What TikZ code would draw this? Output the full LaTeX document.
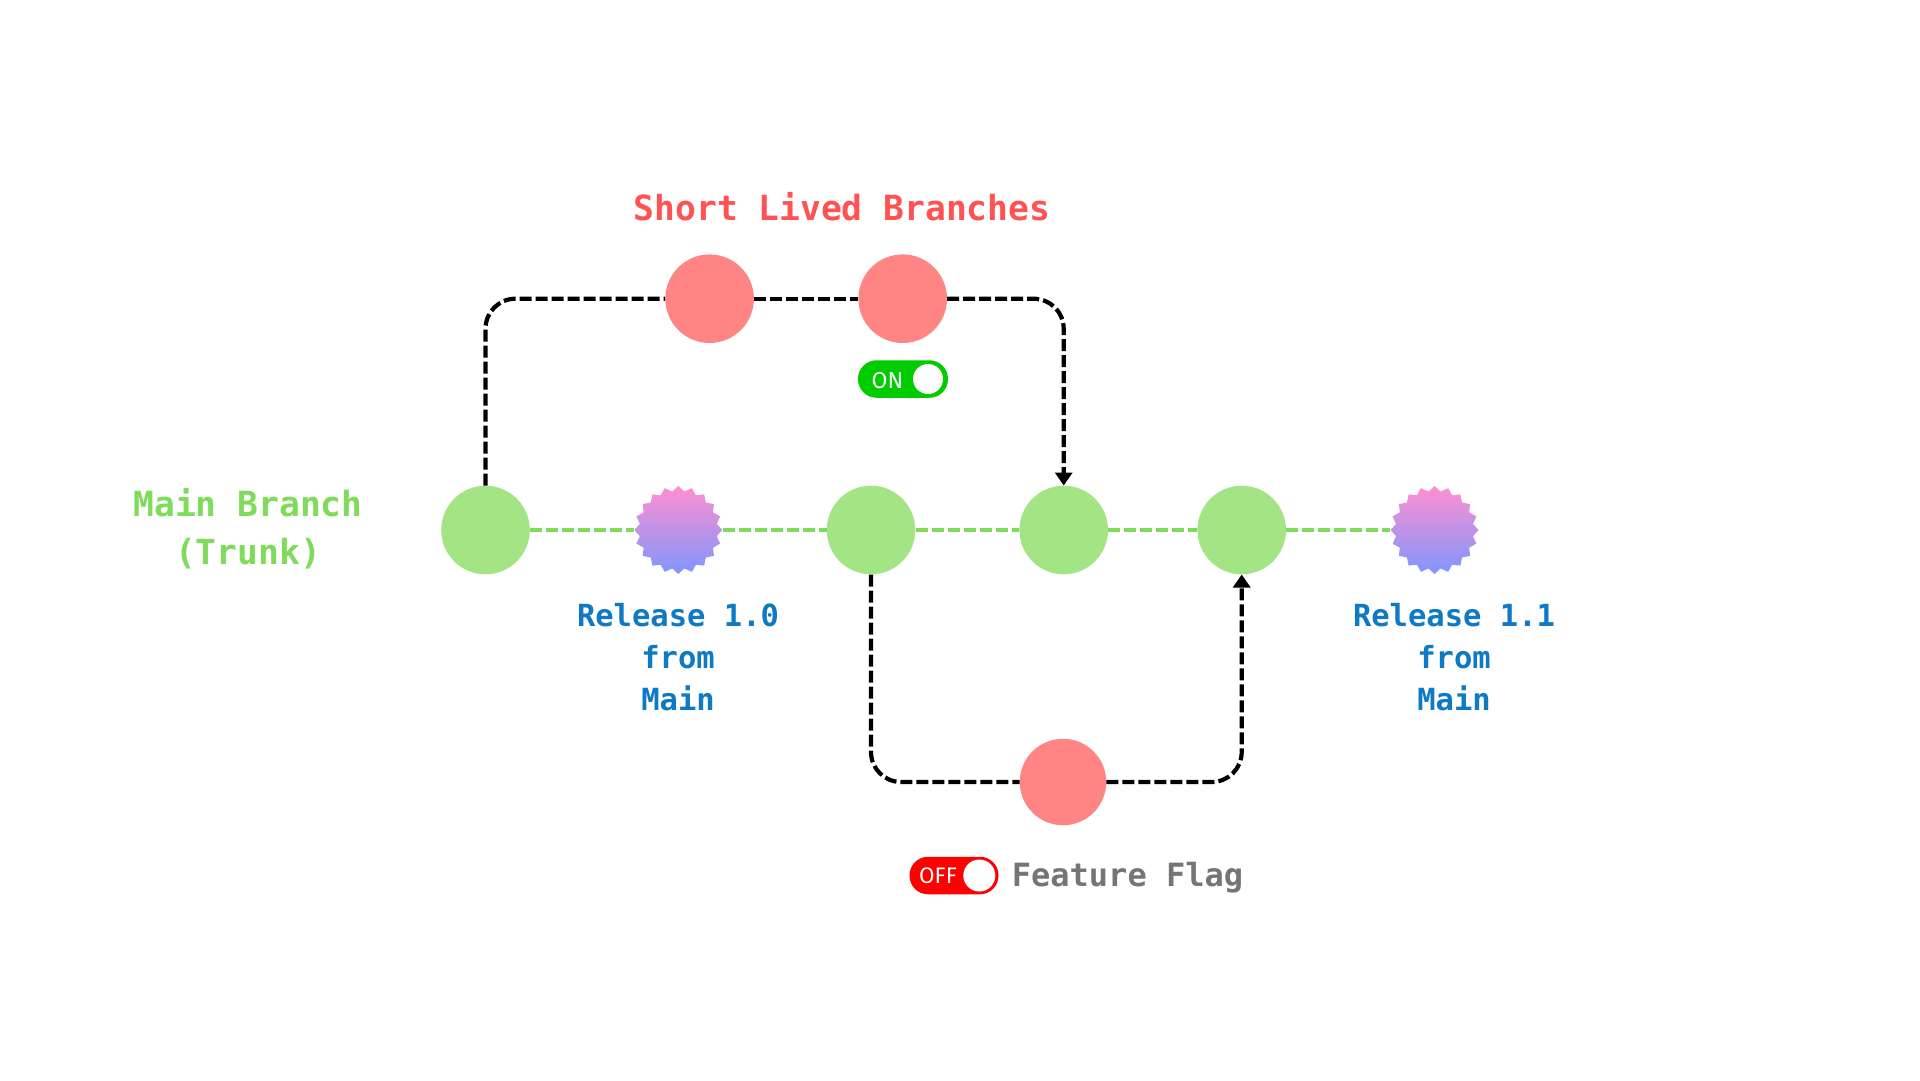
\documentclass[tikz,border=0pt]{standalone}
\usepackage{fontspec}
\setmainfont{Fira Sans}
\newfontfamily\monob[Scale=1]{DejaVu Sans Mono Bold}
\usetikzlibrary{arrows.meta,shapes.geometric}
\definecolor{grn}{HTML}{A3E485}
\definecolor{grnline}{HTML}{7FDB5A}
\definecolor{rd}{HTML}{FF8585}
\definecolor{title}{HTML}{FF5252}
\definecolor{blu}{HTML}{0F7AC4}
\definecolor{gry}{HTML}{757575}
\definecolor{onc}{HTML}{00CC00}
\definecolor{offc}{HTML}{FF0000}
\definecolor{bt}{HTML}{FF8FD0}
\definecolor{bb}{HTML}{7F96FF}
\tikzset{
 x=1pt,y=-1pt,
 gnode/.style={circle,fill=grn,minimum size=88.6pt,inner sep=0pt},
 rnode/.style={circle,fill=rd,minimum size=88.6pt,inner sep=0pt},
 burst/.style={star,star points=20,star point ratio=1.13,minimum size=88pt,inner sep=0pt,top color=bt,bottom color=bb,draw=none},
 mainline/.style={draw=grnline,line width=3.8pt,dash pattern=on 12pt off 4pt},
 branchline/.style={draw=black,line width=4.2pt,dash pattern=on 12pt off 4pt,rounded corners=30pt},
 tip/.style={-{Triangle[length=13pt,width=17pt]}},
 lab/.style={inner sep=0pt,anchor=base,align=center,font=\monob\fontsize{#1}{#1}\selectfont},
 toggle/.style={rounded corners=18.5pt,inner sep=0pt,minimum width=#1,minimum height=37.5pt},
 knob/.style={circle,fill=white,inner sep=0pt},
 tgl/.style={inner sep=0pt,text=white,anchor=base,font=\fontsize{#1}{#1}\selectfont},
}
\begin{document}
\begin{tikzpicture}
\useasboundingbox (0,0) rectangle (1920,1080);
\fill[white] (0,0) rectangle (1920,1080);
\node[gnode] (c1) at (485.5,530) {};
\node[burst] (s1) at (678.3,530) {};
\node[gnode] (c3) at (871,530) {};
\node[gnode] (c4) at (1063.7,530) {};
\node[gnode] (c5) at (1241.7,530) {};
\node[burst] (s2) at (1434.5,530) {};
\node[rnode] (t1) at (709.6,298.7) {};
\node[rnode] (t2) at (902.7,298.7) {};
\node[circle,fill=rd,minimum size=86.5pt,inner sep=0pt] (b1) at (1063,782) {};
\draw[mainline] (c1) -- (s1);
\draw[mainline] (s1) -- (c3);
\draw[mainline] (c3) -- (c4);
\draw[mainline] (c4) -- (c5);
\draw[mainline] (c5) -- (s2);
\draw[branchline] (c1.north) |- (t1.west);
\draw[branchline] (t1.east) -- (t2.west);
\draw[branchline,tip] (t2.east) -| (c4.north);
\draw[branchline] (c3.south) |- (b1.west);
\draw[branchline,tip] (b1.east) -| (c5.south);
% toggles
\node[toggle=90pt,fill=onc] (on) at (903,379) {};
\node[knob,minimum size=30pt] (onk) at (928,379) {};
\node[tgl=23] (ont) at (887.5,388) {ON};
\node[toggle=89pt,fill=offc] (off) at (954,875.5) {};
\node[knob,minimum size=32pt] (offk) at (979.3,875.5) {};
\node[tgl=22.5] (offt) at (938,883) {OFF};
% labels
\node[lab=34.6,text=title] (tt) at (842,220) {Short Lived Branches};
\node[lab=34.6,text=grnline] (m1) at (248,516) {Main Branch};
\node[lab=34.6,text=grnline] (m2) at (248,564) {(Trunk)};
\node[lab=30.5,text=blu] (r11) at (678,626) {Release 1.0};
\node[lab=30.5,text=blu] (r12) at (678,668) {from};
\node[lab=30.5,text=blu] (r13) at (678,710) {Main};
\node[lab=30.5,text=blu] (r21) at (1454,626) {Release 1.1};
\node[lab=30.5,text=blu] (r22) at (1454,668) {from};
\node[lab=30.5,text=blu] (r23) at (1454,710) {Main};
\node[lab=32,text=gry] (ff) at (1127.5,886) {Feature Flag};
\end{tikzpicture}
\end{document}
